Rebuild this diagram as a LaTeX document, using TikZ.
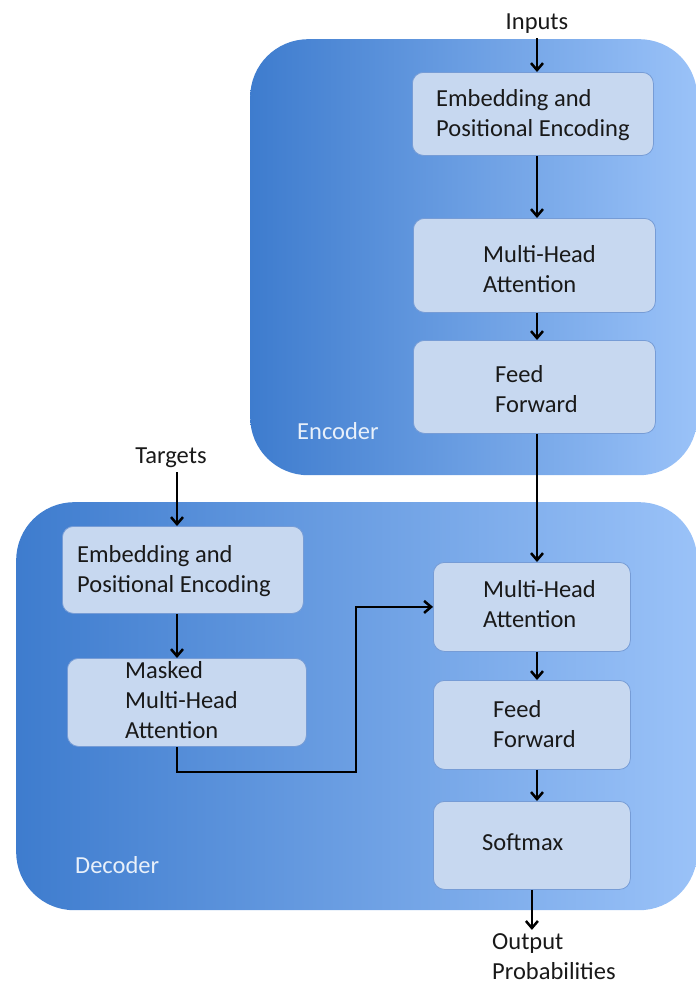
\documentclass[tikz,border=0pt]{standalone}
\usepackage{fontspec}
\setmainfont{Carlito}
\usetikzlibrary{arrows.meta}

\definecolor{boxfill}{RGB}{199,216,240}
\definecolor{boxline}{RGB}{118,156,214}
\definecolor{shadeL}{RGB}{62,124,206}
\definecolor{shadeR}{RGB}{154,194,248}
\definecolor{tagtext}{RGB}{232,240,250}
\definecolor{ink}{RGB}{25,25,25}

% stacked lines whose baseline is the baseline of the first line
\newcommand\tlines[1]{\vtop{\halign{##\hfil\cr#1\crcr}}}

\begin{document}
\begin{tikzpicture}[x=1bp,y=-1bp,
  panel/.style={rounded corners=58bp, left color=shadeL, right color=shadeR,
    draw=none, inner sep=0pt, anchor=north west},
  block/.style={draw=boxline, line width=0.8bp, fill=boxfill,
    rounded corners=11bp, inner sep=0pt, anchor=north west},
  txt/.style={anchor=base west, inner sep=0pt,
    font=\fontsize{24.5bp}{30bp}\selectfont, text=ink},
  tag/.style={txt, text=tagtext},
  flow/.style={-{Straight Barb[length=7bp,width=12bp]}, line width=2.5bp, black}]

\useasboundingbox (0,0) rectangle (696,988);

% containers
\node[panel, minimum width=447bp, minimum height=436bp] (enc) at (250,39) {};
\node[panel, minimum width=681bp, minimum height=408bp] (dec) at (16,502) {};

% encoder blocks
\node[block, minimum width=241bp, minimum height=83bp] (eemb) at (412,72) {};
\node[block, minimum width=242bp, minimum height=94bp] (emha) at (413,218) {};
\node[block, minimum width=242bp, minimum height=93bp] (eff)  at (413,340) {};

% decoder blocks
\node[block, minimum width=241bp, minimum height=87bp] (demb) at (62,526) {};
\node[block, minimum width=239bp, minimum height=88bp] (mask) at (67,658) {};
\node[block, minimum width=197bp, minimum height=89bp] (dmha) at (433,562) {};
\node[block, minimum width=197bp, minimum height=89bp] (dff)  at (433,680) {};
\node[block, minimum width=197bp, minimum height=88bp] (soft) at (433,801) {};

% texts
\node[txt, anchor=base] (inputs) at (537,29) {Inputs};
\node[txt] (eembt) at (436,106) {\tlines{Embedding and\cr Positional Encoding}};
\node[txt] (emhat) at (483,262) {\tlines{Multi-Head\cr Attention}};
\node[txt] (efft)  at (495,382) {\tlines{Feed\cr Forward}};
\node[tag] (enclbl) at (297,439) {Encoder};

\node[txt, anchor=base] (targets) at (171,463) {Targets};
\node[txt] (dembt) at (77,562) {\tlines{Embedding and\cr Positional Encoding}};
\node[txt] (maskt) at (125,678) {\tlines{Masked\cr Multi-Head\cr Attention}};
\node[txt] (dmhat) at (483,597) {\tlines{Multi-Head\cr Attention}};
\node[txt] (dfft)  at (493,717) {\tlines{Feed\cr Forward}};
\node[txt] (softt) at (482,850) {Softmax};
\node[tag] (declbl) at (75,873) {Decoder};
\node[txt] (outp) at (492,949) {\tlines{Output\cr Probabilities}};

% connector columns and bends
\coordinate (ex) at (537,0);
\coordinate (tx) at (177,0);
\coordinate (route) at (356,772);

% encoder flow
\draw[flow, shorten <=5bp] (inputs.south -| ex) -- (eemb.north -| ex);
\draw[flow] (eemb.south -| ex) -- (emha.north -| ex);
\draw[flow] (emha.south -| ex) -- (eff.north -| ex);
\draw[flow] (eff.south -| ex) -- (dmha.north -| ex);

% decoder flow
\draw[flow, shorten <=5bp] (targets.south -| tx) -- (demb.north -| tx);
\draw[flow] (demb.south -| tx) -- (mask.north -| tx);
\draw[flow] (mask.south -| tx) |- (route) |- (dmha.west);
\draw[flow] (dmha.south -| ex) -- (dff.north -| ex);
\draw[flow] (dff.south -| ex) -- (soft.north -| ex);
\draw[flow, shorten >=3bp] (soft.south) -- (soft.south |- outp.north);

\end{tikzpicture}
\end{document}
